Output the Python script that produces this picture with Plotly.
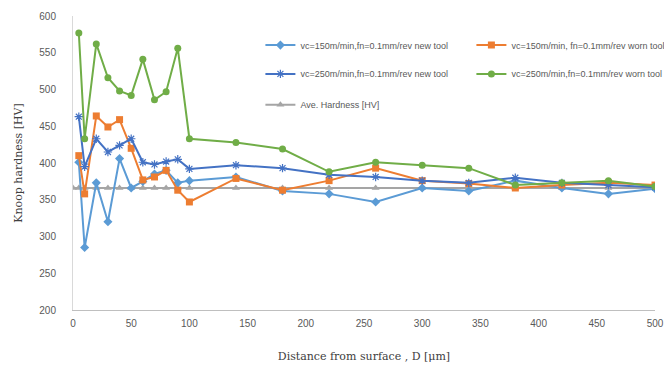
import plotly.graph_objects as go

depth = [5, 10, 20, 30, 40, 50, 60, 70, 80, 90, 100, 140, 180, 220, 260, 300, 340, 380, 420, 460, 500]
vc150_new = [401, 285, 373, 320, 406, 366, 375, 385, 390, 373, 376, 381, 362, 358, 347, 366, 362, 376, 366, 358, 365]
vc150_worn = [410, 358, 464, 449, 459, 420, 377, 381, 390, 363, 347, 379, 363, 376, 393, 376, 372, 366, 370, 373, 370]
vc250_new = [463, 395, 433, 415, 424, 433, 401, 398, 402, 405, 392, 397, 393, 384, 381, 376, 373, 380, 373, 370, 367]
vc250_worn = [577, 433, 562, 516, 498, 492, 541, 486, 497, 556, 433, 428, 419, 388, 401, 397, 393, 370, 373, 376, 368]
avg_depth = [0] + depth
avg_hardness = [366] * len(avg_depth)

names = [
    "vc=150m/min,fn=0.1mm/rev new tool",
    "vc=150m/min, fn=0.1mm/rev worn tool",
    "vc=250m/min,fn=0.1mm/rev new tool",
    "vc=250m/min,fn=0.1mm/rev worn tool",
    "Ave. Hardness [HV]",
]
x_ticks = list(range(0, 501, 50))
y_ticks = list(range(200, 601, 50))

fig = go.Figure()
fig.add_trace(go.Scatter(x=avg_depth, y=avg_hardness, name=names[4], mode="lines+markers",
                         line=dict(color="#A5A5A5", width=2),
                         marker=dict(symbol="triangle-up", size=7, color="#A5A5A5"), legend="legend3"))
fig.add_trace(go.Scatter(x=depth, y=vc150_new, name=names[0], mode="lines+markers",
                         line=dict(color="#5B9BD5", width=2),
                         marker=dict(symbol="diamond", size=7, color="#5B9BD5"), legend="legend"))
fig.add_trace(go.Scatter(x=depth, y=vc150_worn, name=names[1], mode="lines+markers",
                         line=dict(color="#ED7D31", width=2),
                         marker=dict(symbol="square", size=7, color="#ED7D31"), legend="legend"))
fig.add_trace(go.Scatter(x=depth, y=vc250_new, name=names[2], mode="lines+markers",
                         line=dict(color="#4472C4", width=2),
                         marker=dict(symbol="asterisk-open", size=7, color="#4472C4",
                                     line=dict(color="#4472C4", width=1.2)), legend="legend2"))
fig.add_trace(go.Scatter(x=depth, y=vc250_worn, name=names[3], mode="lines+markers",
                         line=dict(color="#70AD47", width=2),
                         marker=dict(symbol="circle", size=7, color="#70AD47"), legend="legend2"))

leg_common = dict(orientation="h", xanchor="left", yanchor="middle", x=0.322,
                  font=dict(family="Liberation Sans", size=9, color="#595959"),
                  bgcolor="rgba(0,0,0,0)", entrywidth=166, entrywidthmode="pixels",
                  traceorder="normal")

fig.update_layout(
    width=664, height=365,
    margin=dict(l=73, r=9, t=16, b=55, autoexpand=False),
    paper_bgcolor="white", plot_bgcolor="white",
    legend=dict(leg_common, y=0.901),
    legend2=dict(leg_common, y=0.803),
    legend3=dict(leg_common, y=0.698),
    xaxis=dict(range=[0, 500], tickvals=x_ticks, showgrid=False, zeroline=False,
               showline=True, linecolor="#BFBFBF", linewidth=1,
               tickfont=dict(family="Liberation Sans", size=10, color="#595959"),
               ticklabelstandoff=4,
               title=dict(text="Distance from surface , D [μm]", standoff=24,
                          font=dict(family="DejaVu Serif", size=11, color="#404040"))),
    yaxis=dict(range=[200, 600], tickvals=y_ticks, showgrid=False, zeroline=False,
               showline=True, linecolor="#D9D9D9", linewidth=1,
               tickfont=dict(family="Liberation Sans", size=10, color="#595959"),
               ticklabelstandoff=14,
               title=dict(text="Knoop hardness [HV]", standoff=14,
                          font=dict(family="DejaVu Serif", size=11, color="#404040"))),
)

fig.write_html("out.html", config={"displayModeBar": False},
               post_script="document.body.style.margin='0';document.body.style.overflow='hidden';")
